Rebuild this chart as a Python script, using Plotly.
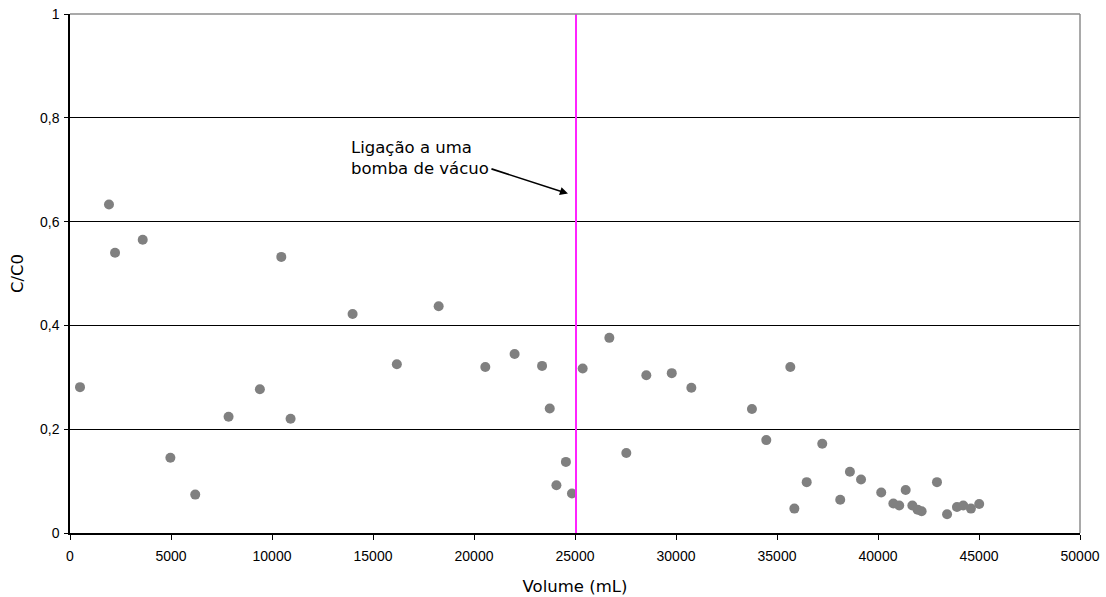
import plotly.graph_objects as go

# Volume passed through the column (mL) and relative concentration C/C0
volume_ml = [495, 1930, 2230, 3600, 4970, 6200, 7850, 9400, 10460, 10920,
             13990, 16180, 18250, 20560, 22010, 23370, 23750, 24080, 24550, 24850,
             25380, 26700, 27540, 28530, 29790, 30760, 33760, 34470, 35660, 35860,
             36470, 37240, 38130, 38610, 39160, 40160, 40760, 41050, 41370, 41700,
             41960, 42160, 42920, 43420, 43910, 44220, 44600, 45010]
c_over_c0 = [0.281, 0.633, 0.540, 0.565, 0.145, 0.074, 0.224, 0.277, 0.532, 0.220,
             0.422, 0.325, 0.437, 0.320, 0.345, 0.322, 0.240, 0.092, 0.137, 0.076,
             0.317, 0.376, 0.154, 0.304, 0.308, 0.280, 0.239, 0.179, 0.320, 0.047,
             0.098, 0.172, 0.064, 0.118, 0.103, 0.078, 0.057, 0.053, 0.083, 0.053,
             0.045, 0.042, 0.098, 0.036, 0.050, 0.053, 0.047, 0.056]

# Volume at which the vacuum pump was connected
pump_volume = 25050

x_ticks = [0, 5000, 10000, 15000, 20000, 25000, 30000, 35000, 40000, 45000, 50000]
y_ticks = [0, 0.2, 0.4, 0.6, 0.8, 1]

tick_font = dict(family="Liberation Sans, Arial, sans-serif", size=14, color="black")
title_font = dict(family="DejaVu Sans, Verdana, sans-serif", size=16.5, color="black")

fig = go.Figure()
fig.add_trace(go.Scatter(
    x=volume_ml, y=c_over_c0, mode="markers",
    marker=dict(color="#808080", size=10, line=dict(width=0)),
    showlegend=False, hoverinfo="x+y",
))

# vertical marker for the pump connection
fig.add_shape(type="line", xref="x", yref="paper", x0=pump_volume, x1=pump_volume,
              y0=0, y1=1, line=dict(color="#FF22FF", width=2), layer="above")

# grey frame on top and right
fig.add_shape(type="line", xref="paper", yref="paper", x0=0, x1=1, y0=1, y1=1,
              line=dict(color="#8c8c8c", width=1.5))
fig.add_shape(type="line", xref="paper", yref="paper", x0=1, x1=1, y0=0, y1=1,
              line=dict(color="#8c8c8c", width=1.5))

# annotation text and arrow
fig.add_annotation(x=13800, y=0.722, xref="x", yref="y", xanchor="left", yanchor="middle",
                   text="Ligação a uma<br>bomba de vácuo", showarrow=False, align="left",
                   font=title_font)
fig.add_annotation(x=24650, y=0.654, ax=20790, ay=0.7025, xref="x", yref="y",
                   axref="x", ayref="y", text="", showarrow=True,
                   arrowhead=2, arrowsize=1, arrowwidth=1.6, arrowcolor="black")

fig.update_layout(
    width=1106, height=597,
    margin=dict(l=70, r=26, t=14, b=64, autoexpand=False),
    paper_bgcolor="white", plot_bgcolor="white",
    separators=",.",
    showlegend=False,
)
fig.update_xaxes(
    range=[0, 50000], tickvals=x_ticks, tickformat="d", automargin=False,
    showline=True, linecolor="black", linewidth=1.5,
    ticks="outside", ticklen=5, tickcolor="black", tickwidth=1,
    ticklabelstandoff=4,
    showgrid=False, zeroline=False, tickfont=tick_font,
    title=dict(text="Volume (mL)", font=title_font, standoff=18),
)
fig.update_yaxes(
    range=[0, 1], tickvals=y_ticks, automargin=False,
    showline=True, linecolor="black", linewidth=1.5,
    ticks="outside", ticklen=4, tickcolor="black", tickwidth=1,
    ticklabelstandoff=2,
    showgrid=True, gridcolor="black", gridwidth=1, zeroline=False,
    tickfont=tick_font,
    title=dict(text="C/C0", font=title_font, standoff=12),
)

fig.write_html("out.html")
